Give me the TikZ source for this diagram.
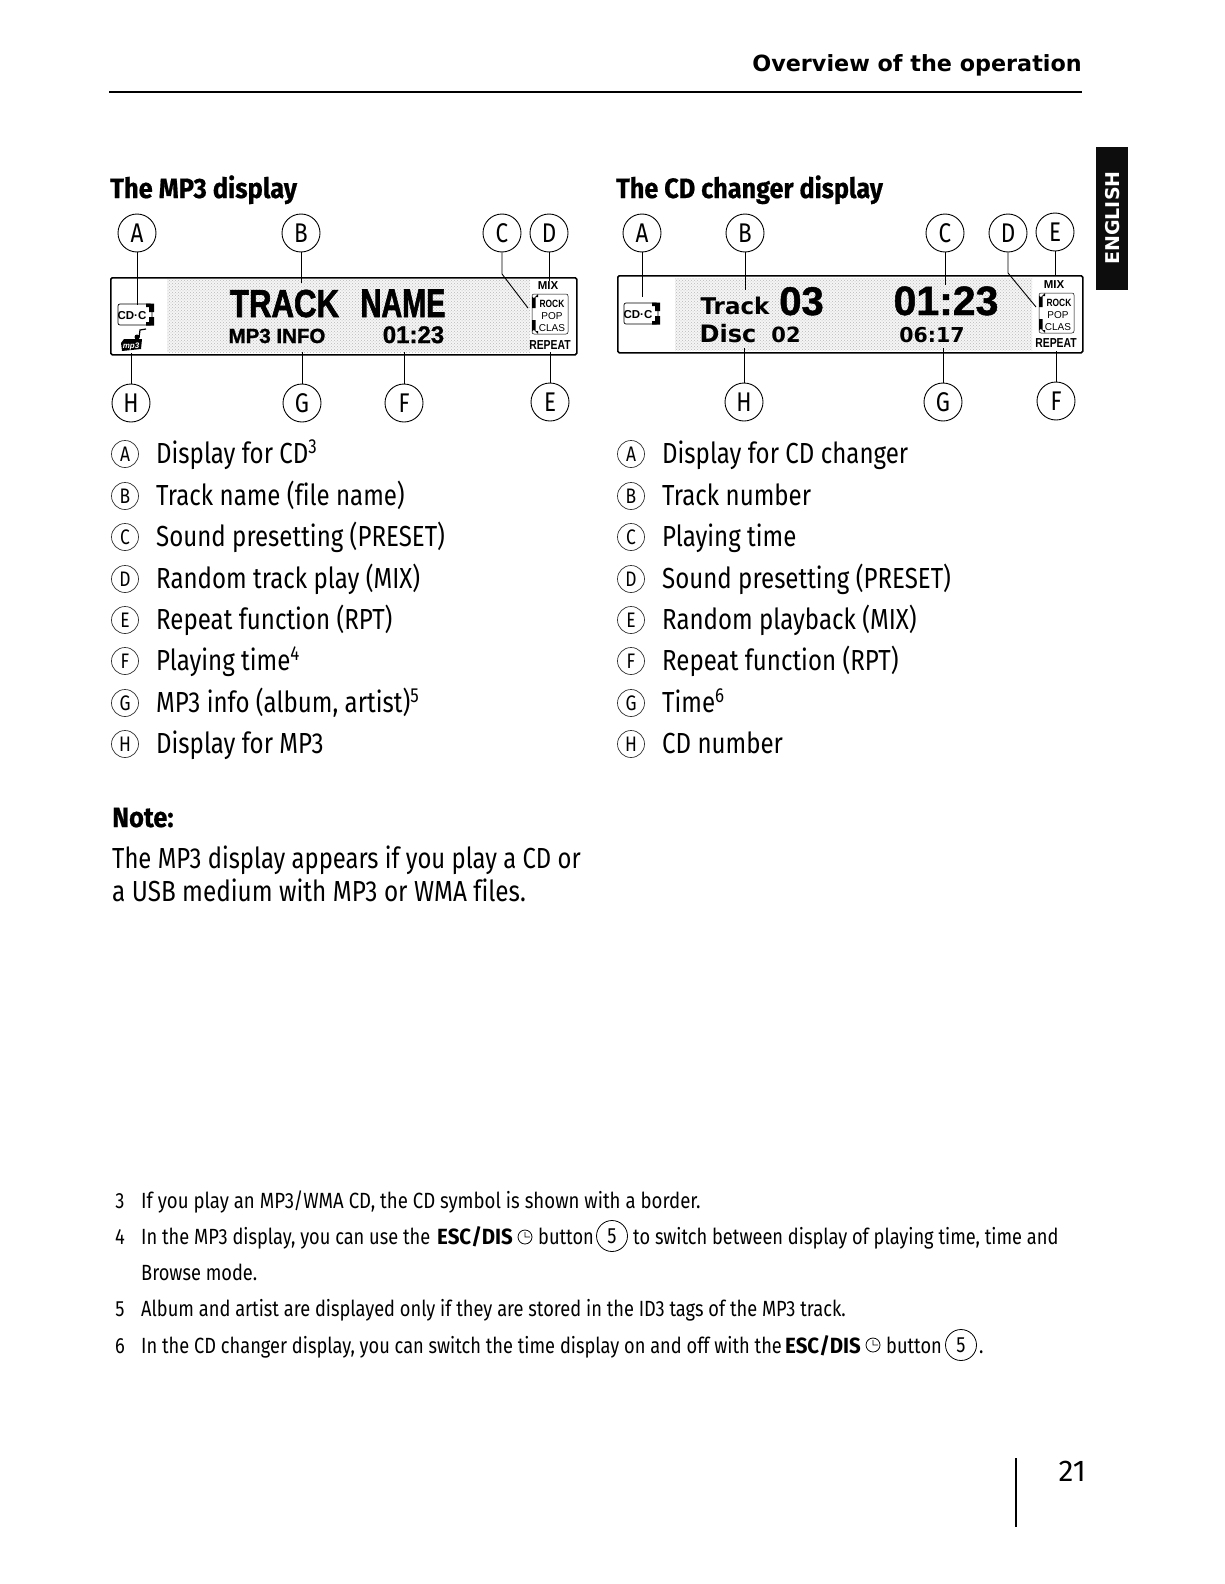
\documentclass[tikz,border=0pt]{standalone}
\usepackage{fontspec}
\usepackage{graphicx}
\usetikzlibrary{patterns}
\setmainfont{Fira Sans}
\newfontfamily\bodyf[FakeStretch=0.83,Ligatures=NoCommon]{Fira Sans}
\newfontfamily\footf[FakeStretch=0.829,Ligatures=NoCommon]{Fira Sans}
\newfontfamily\footb[FakeStretch=0.93]{Fira Sans}
\newfontfamily\headf[FakeStretch=0.91,FakeBold=0.6]{Fira Sans}
\newfontfamily\dispf{Liberation Sans}
\newfontfamily\dispb[FakeBold=1.2]{Liberation Sans}
\newfontfamily\dispn[FakeStretch=0.80]{Liberation Sans}
\newfontfamily\dispnb[FakeStretch=0.80,FakeBold=1.6]{Liberation Sans}
\newfontfamily\wide{DejaVu Sans}
\newcommand{\fs}[1]{\fontsize{#1}{#1}\selectfont}
\tikzset{
  big/.style={circle,draw,line width=.9pt,minimum size=38pt,inner sep=0pt,font=\bodyf\fs{27}},
  small/.style={circle,draw=black!80,line width=.7pt,minimum size=27pt,inner sep=0pt,font=\bodyf\fs{21}},
  conn/.style={line width=.9pt},
  txt/.style={inner sep=0pt,anchor=base west},
  ctxt/.style={inner sep=0pt,anchor=base},
  rtxt/.style={inner sep=0pt,anchor=base east},
  head/.style={txt,font=\headf\bfseries\fs{28}},
  item/.style={txt,font=\bodyf\fs{29}},
  foot/.style={txt,font=\footf\fs{22}},
  fnum/.style={ctxt,font=\bodyf\fs{22}},
  lcd/.style={draw,line width=1.6pt,rounded corners=1.5pt},
  dither/.style={fill=black!4,postaction={pattern=crosshatch dots,pattern color=black!28}},
  mini/.style={ctxt,font=\dispf\bfseries\fs{11.5}},
  minilight/.style={ctxt,font=\dispf\fs{10}},
}
\begin{document}
\begin{tikzpicture}[x=1pt,y=-1pt]
\useasboundingbox (0,0) rectangle (1224,1584);
\fill[white] (0,0) rectangle (1224,1584);

% header
\node[rtxt,font=\wide\bfseries\fs{22.3}] (hdr) at (1082,72) {Overview of the operation};
\coordinate (ruleL) at (109,92); \coordinate (ruleR) at (1082,92);
\draw[line width=2pt] (ruleL) -- (ruleR);

% language tab
\fill[black!95] (1096,147) rectangle (1128,290);
\node[font=\wide\bfseries\fs{19},text=white,rotate=90,inner sep=0pt] (lang) at (1113,218) {ENGLISH};

% headings
\node[head] (hmp) at (110,198) {The MP3 display};
\node[head] (hcd) at (616,198) {\scalebox{.99}[1]{The CD changer display}};

% ---------- MP3 display ----------
\fill[dither] (167,279) rectangle (530,352);
\node[lcd,minimum width=466pt,minimum height=77pt,inner sep=0pt,anchor=north west] (mbox) at (110,277) {};
\node[ctxt,font=\dispnb\bfseries\fs{39}] (mt1) at (284.5,317) {TRACK};
\node[ctxt,font=\dispnb\bfseries\fs{40}] (mt2) at (403,317) {\scalebox{.9}[1]{NAME}};
\node[ctxt,font=\dispb\bfseries\fs{20.5}] (mt3) at (277,343) {MP3 INFO};
\node[ctxt,font=\dispb\bfseries\fs{24}] (mt4) at (413.5,343) {01:23};
\node[mini] (mmix) at (548,289) {MIX};
\node[mini,font=\dispn\bfseries\fs{13}] (mrep) at (550,349) {REPEAT};
% preset box
\draw[line width=.5pt,rounded corners=2pt] (532,294) rectangle (568,334);
\fill (532,308) -- (532,296) arc (180:90:2) -- (538,294) -- (538,297) -- (535.5,297) -- (535.5,308) -- cycle;
\fill (532,320) -- (532,332) arc (180:270:2) -- (538,334) -- (538,331) -- (535.5,331) -- (535.5,320) -- cycle;
\node[mini,font=\dispn\bfseries\fs{10.5}] (mrock) at (552,307) {ROCK};
\node[minilight] (mpop) at (552,319) {POP};
\node[minilight] (mclas) at (552,331) {CLAS};
% CD-C icon
\draw[line width=.7pt,rounded corners=2pt] (118,304) rectangle (152,325);
\fill (146,303.5) -- (154,303.5) -- (154,312) -- (149,312) -- (149,307) -- (146,307) -- cycle;
\fill (146,325.5) -- (154,325.5) -- (154,317) -- (149,317) -- (149,322) -- (146,322) -- cycle;
\node[ctxt,font=\dispf\bfseries\fs{11.5}] (mcd) at (132,319) {CD·C};
% mp3 icon
\fill (124,339) -- (142,339) -- (141,349) -- (122,351) -- (121,343) -- cycle;
\draw[line width=1.2pt] (139,338) -- (140,330) -- (146,329);
\fill (137,337) circle (2.5);
\node[ctxt,text=white,font=\dispf\bfseries\itshape\fs{8}] (mmp3) at (131,348) {mp3};

% callouts
\node[big] (ma) at (137,233) {A};
\node[big] (mb) at (301,233) {B};
\node[big] (mc) at (502,233) {C};
\node[big] (md) at (549,233) {D};
\node[big] (mh) at (131,403) {H};
\node[big] (mg) at (302,403) {G};
\node[big] (mf) at (404,403) {F};
\node[big] (me) at (550,402) {E};
\coordinate (maE) at (137,305);
\coordinate (mbE) at (301,283);
\coordinate (mcK) at (502,274);
\coordinate (mcE) at (528,308);
\coordinate (mdE) at (549,281);
\coordinate (mhE) at (131,353);
\coordinate (mgE) at (302,352);
\coordinate (mfE) at (404,352);
\coordinate (meE) at (550,352);
\draw[conn] (ma) -- (maE);
\draw[conn] (mb) -- (mbE);
\draw[conn] (mc) -- (mcK) -- (mcE);
\draw[conn] (md) -- (mdE);
\draw[conn] (mh) -- (mhE);
\draw[conn] (mg) -- (mgE);
\draw[conn] (mf) -- (mfE);
\draw[conn] (me) -- (meE);

% ---------- CD changer display ----------
\fill[dither] (675,278) rectangle (1032,350);
\node[lcd,minimum width=465pt,minimum height=77pt,inner sep=0pt,anchor=north west] (cbox) at (617,275) {};
\node[ctxt,font=\wide\bfseries\fs{23}] (ct1) at (735,314) {Track};
\node[ctxt,font=\dispb\bfseries\fs{40}] (ct2) at (801.5,315) {03};
\node[ctxt,font=\dispb\bfseries\fs{41}] (ct3) at (946,315) {01:23};
\node[ctxt,font=\wide\bfseries\fs{24}] (ct4) at (728,342) {Disc};
\node[ctxt,font=\wide\bfseries\fs{21}] (ct5) at (786,342) {02};
\node[ctxt,font=\wide\bfseries\fs{20.5}] (ct6) at (932,342) {06:17};
\node[mini] (cmix) at (1054,288) {MIX};
\node[mini,font=\dispn\bfseries\fs{13}] (crep) at (1056,347) {REPEAT};
\draw[line width=.5pt,rounded corners=2pt] (1039,293) rectangle (1074,333);
\fill (1039,307) -- (1039,295) arc (180:90:2) -- (1045,293) -- (1045,296) -- (1042.5,296) -- (1042.5,307) -- cycle;
\fill (1039,319) -- (1039,331) arc (180:270:2) -- (1045,333) -- (1045,330) -- (1042.5,330) -- (1042.5,319) -- cycle;
\node[mini,font=\dispn\bfseries\fs{10.5}] (crock) at (1059,306) {ROCK};
\node[minilight] (cpop) at (1058,318) {POP};
\node[minilight] (cclas) at (1058,330) {CLAS};
\draw[line width=.7pt,rounded corners=2pt] (624,303) rectangle (658,324);
\fill (652,302.5) -- (660,302.5) -- (660,311) -- (655,311) -- (655,306) -- (652,306) -- cycle;
\fill (652,324.5) -- (660,324.5) -- (660,316) -- (655,316) -- (655,321) -- (652,321) -- cycle;
\node[ctxt,font=\dispf\bfseries\fs{11.5}] (ccd) at (638,318) {CD·C};

\node[big] (ca) at (642,233) {A};
\node[big] (cb) at (745,233) {B};
\node[big] (cc) at (945,233) {C};
\node[big] (cd) at (1008,233) {D};
\node[big] (ce) at (1055,232) {E};
\node[big] (ch) at (744,402) {H};
\node[big] (cg) at (943,402) {G};
\node[big] (cf) at (1056,401) {F};
\coordinate (caE) at (642,297);
\coordinate (cbE) at (745,290);
\coordinate (ccE) at (945,285);
\coordinate (cdK) at (1008,273);
\coordinate (cdE) at (1036,307);
\coordinate (ceE) at (1055,276);
\coordinate (chE) at (744,348);
\coordinate (cgE) at (943,348);
\coordinate (cfE) at (1056,351);
\draw[conn] (ca) -- (caE);
\draw[conn] (cb) -- (cbE);
\draw[conn] (cc) -- (ccE);
\draw[conn] (cd) -- (cdK) -- (cdE);
\draw[conn] (ce) -- (ceE);
\draw[conn] (ch) -- (chE);
\draw[conn] (cg) -- (cgE);
\draw[conn] (cf) -- (cfE);

% ---------- lists ----------
\foreach \n/\l/\t/\y in {1/A/{Display for CD\textsuperscript{3}}/453,
  2/B/{Track name (file name)}/495,
  3/C/{Sound presetting (PRESET)}/536,
  4/D/{Random track play (MIX)}/578,
  5/E/{Repeat function (RPT)}/619,
  6/F/{Playing time\textsuperscript{4}}/660,
  7/G/{MP3 info (album, artist)\textsuperscript{5}}/702,
  8/H/{Display for MP3}/743}{
  \node[small] (li\n) at (125,\y+1) {\l};
  \node[item] (lt\n) at (156,\y+10) {\t};
}
\foreach \n/\l/\t/\y in {1/A/{Display for CD changer}/453,
  2/B/{Track number}/495,
  3/C/{Playing time}/536,
  4/D/{Sound presetting (PRESET)}/578,
  5/E/{Random playback (MIX)}/619,
  6/F/{Repeat function (RPT)}/660,
  7/G/{Time\textsuperscript{6}}/702,
  8/H/{CD number}/743}{
  \node[small] (ri\n) at (631,\y+1) {\l};
  \node[item] (rt\n) at (662,\y+10) {\t};
}

% note
\node[head] (note) at (112,827) {Note:};
\node[item] (n1) at (112,868) {\scalebox{.99}[1]{The MP3 display appears if you play a CD or}};
\node[item] (n2) at (112,901) {\scalebox{1.01}[1]{a USB medium with MP3 or WMA files.}};

% footnotes
\node[fnum] (f3) at (120,1208) {3};
\node[foot] (f3t) at (141,1208) {\scalebox{1.02}[1]{If you play an MP3/WMA CD, the CD symbol is shown with a border.}};
\node[fnum] (f4) at (120,1244) {4};
\node[foot] (f4a) at (141,1244) {In the MP3 display, you can use the};
\node[foot,font=\footb\bfseries\fs{22}] (f4b) at (437,1244) {ESC/DIS};
\draw[line width=.8pt] (525,1237) circle (7) (525,1232) -- (525,1237) -- (530,1237);
\node[foot] (f4c) at (538,1244) {button};
\node[circle,draw,line width=.8pt,minimum size=31pt,inner sep=0pt,font=\bodyf\fs{22}] (f4d) at (612,1236) {5};
\node[foot] (f4e) at (633,1244) {to switch between display of playing time, time and};
\node[foot] (f4f) at (141,1280) {Browse mode.};
\node[fnum] (f5) at (120,1316) {5};
\node[foot] (f5t) at (141,1316) {Album and artist are displayed only if they are stored in the ID3 tags of the MP3 track.};
\node[fnum] (f6) at (120,1353) {6};
\node[foot] (f6a) at (141,1353) {In the CD changer display, you can switch the time display on and off with the};
\node[foot,font=\footb\bfseries\fs{22}] (f6b) at (785,1353) {ESC/DIS};
\draw[line width=.8pt] (873,1345) circle (7) (873,1340) -- (873,1345) -- (878,1345);
\node[foot] (f6c) at (886,1353) {button};
\node[circle,draw,line width=.8pt,minimum size=31pt,inner sep=0pt,font=\bodyf\fs{22}] (f6d) at (961,1345) {5};
\node[foot] (f6e) at (979,1353) {.};

% page number
\coordinate (pgT) at (1016,1458); \coordinate (pgB) at (1016,1527);
\draw[line width=2pt] (pgT) -- (pgB);
\node[rtxt,font=\fs{30}] (pg) at (1086,1481) {21};
\end{tikzpicture}
\end{document}
